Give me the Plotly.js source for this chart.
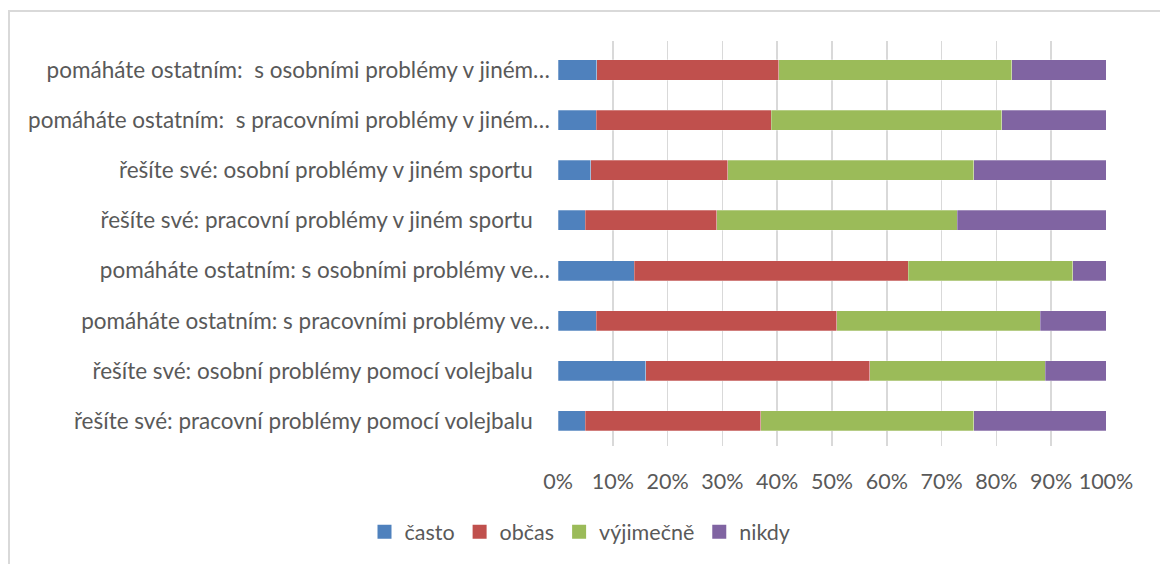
<!DOCTYPE html>
<html>
<head>
<meta charset="utf-8">
<script src="https://cdn.plot.ly/plotly-3.0.1.min.js"></script>
<style>
  html, body { margin: 0; padding: 0; background: #ffffff; }
  #wrap { position: relative; width: 1160px; height: 564px; overflow: hidden; }
  #chart { position: absolute; left: 0; top: 0; width: 1160px; height: 564px; }
  #frame { position: absolute; left: 8px; top: 10px; width: 1160px; height: 600px;
           border-left: 2px solid #d9d9d9; border-top: 2px solid #d9d9d9; pointer-events: none; }
</style>
</head>
<body>
<div id="wrap">
  <div id="chart"></div>
  <div id="frame"></div>
</div>
<script>
// Categories, top to bottom as shown
const categories = [
  "pomáháte ostatním:  s osobními problémy v jiném…",
  "pomáháte ostatním:  s pracovními problémy v jiném…",
  "řešíte své: osobní problémy v jiném sportu\u00a0\u00a0\u00a0",
  "řešíte své: pracovní problémy v jiném sportu\u00a0\u00a0\u00a0",
  "pomáháte ostatním: s osobními problémy ve…",
  "pomáháte ostatním: s pracovními problémy ve…",
  "řešíte své: osobní problémy pomocí volejbalu\u00a0\u00a0\u00a0",
  "řešíte své: pracovní problémy pomocí volejbalu\u00a0\u00a0\u00a0"
];
const seriesNames = ["často", "občas", "výjimečně", "nikdy"];
const casto     = [7.1, 7.0, 6.0, 5.0, 13.9, 7.0, 16.0, 5.0];
const obcas     = [33.2, 31.9, 25.0, 24.0, 50.0, 43.9, 40.9, 32.0];
const vyjimecne = [42.5, 42.1, 44.9, 43.9, 30.0, 37.1, 32.0, 38.9];
const nikdy     = [17.2, 19.0, 24.1, 27.1, 6.1, 12.0, 11.1, 24.1];
const colors = ["#4F81BD", "#C0504D", "#9BBB59", "#8064A2"];
const tickVals = [0, 10, 20, 30, 40, 50, 60, 70, 80, 90, 100];
const tickText = ["0%", "10%", "20%", "30%", "40%", "50%", "60%", "70%", "80%", "90%", "100%"];

const allSeries = [casto, obcas, vyjimecne, nikdy];
const traces = allSeries.map((vals, i) => ({
  type: "bar",
  orientation: "h",
  name: seriesNames[i],
  legendgroup: seriesNames[i],
  showlegend: false,
  x: vals,
  y: categories,
  marker: { color: colors[i], line: { color: "rgba(255,255,255,0.45)", width: 0.6 } },
  hoverinfo: "skip"
}));
// legend entries with larger square swatches
seriesNames.forEach((nm, i) => {
  traces.push({
    type: "scatter",
    mode: "markers",
    name: nm,
    legendgroup: nm,
    showlegend: true,
    x: [null],
    y: [categories[0]],
    marker: { symbol: "square", size: 14, color: colors[i], line: { width: 0 } },
    hoverinfo: "skip"
  });
});

const fam = "Lato, 'Open Sans', sans-serif";

const layout = {
  width: 1160,
  height: 564,
  barmode: "stack",
  bargap: 0.6,
  paper_bgcolor: "rgba(0,0,0,0)",
  plot_bgcolor: "rgba(0,0,0,0)",
  font: { family: fam, color: "#595959", size: 21 },
  margin: { l: 558, r: 54, t: 41, b: 118, pad: 0 },
  showlegend: true,
  legend: {
    orientation: "h",
    xref: "container", yref: "container",
    x: 0.5, xanchor: "center",
    y: 0.057, yanchor: "middle",
    font: { family: fam, color: "#595959", size: 21.5 },
    traceorder: "normal",
    itemwidth: 30
  },
  xaxis: {
    range: [0, 100],
    tickvals: tickVals,
    ticktext: tickText,
    showgrid: true,
    gridcolor: "#d9d9d9",
    gridwidth: 1.5,
    zeroline: false,
    showline: false,
    ticks: "",
    ticklabelstandoff: 20,
    tickfont: { family: fam, color: "#595959", size: 21.5 },
    fixedrange: true
  },
  yaxis: {
    autorange: "reversed",
    type: "category",
    categoryorder: "array",
    categoryarray: categories,
    showgrid: false,
    zeroline: false,
    showline: false,
    ticks: "",
    ticklabelstandoff: 7,
    tickfont: { family: fam, color: "#595959", size: 22.5 },
    fixedrange: true
  }
};

Plotly.newPlot("chart", traces, layout, { displayModeBar: false, staticPlot: true });
</script>
</body>
</html>
